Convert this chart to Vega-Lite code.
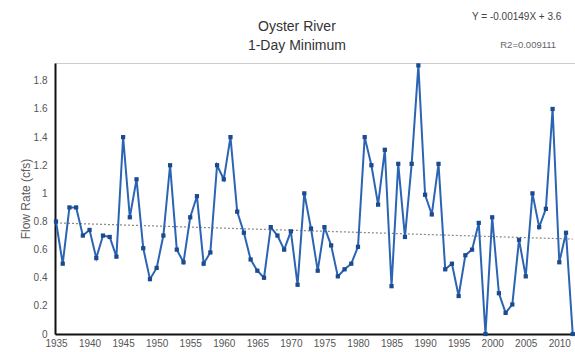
{
  "$schema": "https://vega.github.io/schema/vega-lite/v6.json",
  "width": 520,
  "height": 271,
  "autosize": "none",
  "padding": {"left": 55, "top": 63, "right": 0, "bottom": 18},
  "background": "white",
  "config": {
    "font": "Liberation Sans",
    "view": {"stroke": "#9a9a9a", "strokeDash": [1, 1], "strokeWidth": 1},
    "axis": {
      "labelOverlap": false,
      "labelBound": false,
      "labelFlush": false,
      "labelFont": "Liberation Sans",
      "labelFontSize": 10,
      "labelColor": "#555555",
      "domainColor": "#111111",
      "domainWidth": 2,
      "ticks": false,
      "grid": false
    }
  },
  "datasets": {
    "flow": [
      {"year": 1935, "cfs": 0.80}, {"year": 1936, "cfs": 0.50}, {"year": 1937, "cfs": 0.90},
      {"year": 1938, "cfs": 0.90}, {"year": 1939, "cfs": 0.70}, {"year": 1940, "cfs": 0.74},
      {"year": 1941, "cfs": 0.54}, {"year": 1942, "cfs": 0.70}, {"year": 1943, "cfs": 0.69},
      {"year": 1944, "cfs": 0.55}, {"year": 1945, "cfs": 1.40}, {"year": 1946, "cfs": 0.83},
      {"year": 1947, "cfs": 1.10}, {"year": 1948, "cfs": 0.61}, {"year": 1949, "cfs": 0.39},
      {"year": 1950, "cfs": 0.47}, {"year": 1951, "cfs": 0.70}, {"year": 1952, "cfs": 1.20},
      {"year": 1953, "cfs": 0.60}, {"year": 1954, "cfs": 0.51}, {"year": 1955, "cfs": 0.83},
      {"year": 1956, "cfs": 0.98}, {"year": 1957, "cfs": 0.50}, {"year": 1958, "cfs": 0.58},
      {"year": 1959, "cfs": 1.20}, {"year": 1960, "cfs": 1.10}, {"year": 1961, "cfs": 1.40},
      {"year": 1962, "cfs": 0.87}, {"year": 1963, "cfs": 0.72}, {"year": 1964, "cfs": 0.53},
      {"year": 1965, "cfs": 0.45}, {"year": 1966, "cfs": 0.40}, {"year": 1967, "cfs": 0.76},
      {"year": 1968, "cfs": 0.70}, {"year": 1969, "cfs": 0.60}, {"year": 1970, "cfs": 0.73},
      {"year": 1971, "cfs": 0.35}, {"year": 1972, "cfs": 1.00}, {"year": 1973, "cfs": 0.75},
      {"year": 1974, "cfs": 0.45}, {"year": 1975, "cfs": 0.76}, {"year": 1976, "cfs": 0.63},
      {"year": 1977, "cfs": 0.41}, {"year": 1978, "cfs": 0.46}, {"year": 1979, "cfs": 0.50},
      {"year": 1980, "cfs": 0.62}, {"year": 1981, "cfs": 1.40}, {"year": 1982, "cfs": 1.20},
      {"year": 1983, "cfs": 0.92}, {"year": 1984, "cfs": 1.31}, {"year": 1985, "cfs": 0.34},
      {"year": 1986, "cfs": 1.21}, {"year": 1987, "cfs": 0.69}, {"year": 1988, "cfs": 1.21},
      {"year": 1989, "cfs": 1.91}, {"year": 1990, "cfs": 0.99}, {"year": 1991, "cfs": 0.85},
      {"year": 1992, "cfs": 1.21}, {"year": 1993, "cfs": 0.46}, {"year": 1994, "cfs": 0.50},
      {"year": 1995, "cfs": 0.27}, {"year": 1996, "cfs": 0.56}, {"year": 1997, "cfs": 0.60},
      {"year": 1998, "cfs": 0.79}, {"year": 1999, "cfs": 0.00}, {"year": 2000, "cfs": 0.83},
      {"year": 2001, "cfs": 0.29}, {"year": 2002, "cfs": 0.15}, {"year": 2003, "cfs": 0.21},
      {"year": 2004, "cfs": 0.67}, {"year": 2005, "cfs": 0.41}, {"year": 2006, "cfs": 1.00},
      {"year": 2007, "cfs": 0.76}, {"year": 2008, "cfs": 0.89}, {"year": 2009, "cfs": 1.60},
      {"year": 2010, "cfs": 0.51}, {"year": 2011, "cfs": 0.72}, {"year": 2012, "cfs": 0.00}
    ],
    "trend": [
      {"year": 1935, "cfs": 0.79},
      {"year": 2012, "cfs": 0.675}
    ],
    "notes": [
      {"text": "Oyster River", "kind": "title1"},
      {"text": "1-Day Minimum", "kind": "title2"},
      {"text": "Y = -0.00149X + 3.6", "kind": "equation"},
      {"text": "R2=0.009111", "kind": "r2"}
    ]
  },
  "layer": [
    {
      "data": {"name": "trend"},
      "mark": {"type": "line", "color": "#8a8a8a", "strokeWidth": 1.2, "strokeDash": [2, 2]},
      "encoding": {
        "x": {"field": "year", "type": "quantitative"},
        "y": {"field": "cfs", "type": "quantitative"}
      }
    },
    {
      "data": {"name": "flow"},
      "mark": {"type": "line", "color": "#2c64b4", "strokeWidth": 2},
      "encoding": {
        "x": {
          "field": "year",
          "type": "quantitative",
          "scale": {"domain": [1934.85, 2012.34], "nice": false, "zero": false},
          "axis": {
            "title": null,
            "values": [1935, 1940, 1945, 1950, 1955, 1960, 1965, 1970, 1975, 1980, 1985, 1990, 1995, 2000, 2005, 2010],
            "tickCount": 40,
            "format": "d",
            "labelOverlap": false,
            "labelPadding": 4
          }
        },
        "y": {
          "field": "cfs",
          "type": "quantitative",
          "scale": {"domain": [0, 1.927], "nice": false},
          "axis": {
            "title": "Flow Rate (cfs)",
            "titleFont": "Liberation Sans",
            "titleFontSize": 12,
            "titleFontWeight": "normal",
            "titleColor": "#5a5a5a",
            "titlePadding": 1,
            "values": [0, 0.2, 0.4, 0.6, 0.8, 1, 1.2, 1.4, 1.6, 1.8],
            "tickCount": 20,
            "format": ".1~f",
            "labelOverlap": false,
            "labelPadding": 8
          }
        }
      }
    },
    {
      "data": {"name": "flow"},
      "mark": {"type": "point", "shape": "square", "filled": true, "size": 18, "color": "#1b4a8e", "opacity": 1},
      "encoding": {
        "x": {"field": "year", "type": "quantitative"},
        "y": {"field": "cfs", "type": "quantitative"}
      }
    },
    {
      "data": {"name": "notes"},
      "transform": [{"filter": "datum.kind === 'title1'"}],
      "mark": {"type": "text", "align": "center", "baseline": "middle", "fontSize": 14, "color": "#333333", "font": "Liberation Sans"},
      "encoding": {
        "x": {"datum": 1970.9},
        "y": {"datum": 2.183},
        "text": {"field": "text"}
      }
    },
    {
      "data": {"name": "notes"},
      "transform": [{"filter": "datum.kind === 'title2'"}],
      "mark": {"type": "text", "align": "center", "baseline": "middle", "fontSize": 14, "color": "#333333", "font": "Liberation Sans"},
      "encoding": {
        "x": {"datum": 1970.9},
        "y": {"datum": 2.048},
        "text": {"field": "text"}
      }
    },
    {
      "data": {"name": "notes"},
      "transform": [{"filter": "datum.kind === 'equation'"}],
      "mark": {"type": "text", "align": "left", "baseline": "middle", "fontSize": 10, "color": "#444444", "font": "Liberation Sans"},
      "encoding": {
        "x": {"datum": 1997.0},
        "y": {"datum": 2.255},
        "text": {"field": "text"}
      }
    },
    {
      "data": {"name": "notes"},
      "transform": [{"filter": "datum.kind === 'r2'"}],
      "mark": {"type": "text", "align": "left", "baseline": "middle", "fontSize": 9.5, "color": "#666666", "font": "Liberation Sans"},
      "encoding": {
        "x": {"datum": 2001.2},
        "y": {"datum": 2.055},
        "text": {"field": "text"}
      }
    }
  ]
}
